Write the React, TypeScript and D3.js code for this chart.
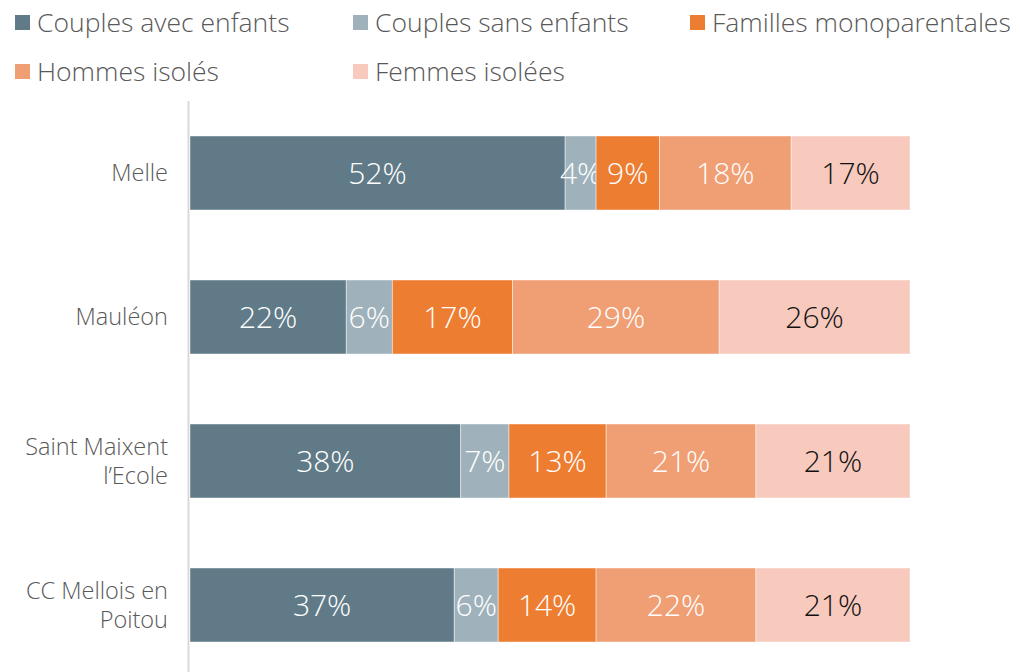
import React from "react";
import * as d3 from "d3";

const categories = ["Melle", "Mauléon", "Saint Maixent l’Ecole", "CC Mellois en Poitou"];
const categoryLines = [["Melle"], ["Mauléon"], ["Saint Maixent", "l’Ecole"], ["CC Mellois en", "Poitou"]];
const seriesNames = ["Couples avec enfants", "Couples sans enfants", "Familles monoparentales", "Hommes isolés", "Femmes isolées"];
const seriesColors = ["#607b87", "#9fb2bb", "#ed7d31", "#f09e74", "#f7cabd"];
const labelColors = ["#ffffff", "#ffffff", "#ffffff", "#ffffff", "#111111"];
const coupleAvec = [52.1, 21.7, 37.6, 36.7];
const coupleSans = [4.3, 6.4, 6.7, 6.1];
const monoparent = [8.8, 16.7, 13.5, 13.6];
const hommes = [18.3, 28.7, 20.8, 22.2];
const femmes = [16.5, 26.5, 21.4, 21.4];
const valueLabels = [
  ["52%", "22%", "38%", "37%"],
  ["4%", "6%", "7%", "6%"],
  ["9%", "17%", "13%", "14%"],
  ["18%", "29%", "21%", "22%"],
  ["17%", "26%", "21%", "21%"],
];

const W = 1020;
const H = 672;
const FONT = "'Open Sans', sans-serif";

export default function App() {
  const series = [coupleAvec, coupleSans, monoparent, hommes, femmes];
  const rows = categories.map((c, i) => {
    const o: any = { cat: c };
    seriesNames.forEach((s, j) => (o[s] = series[j][i]));
    return o;
  });
  const stack = d3.stack<any>().keys(seriesNames).offset(d3.stackOffsetExpand);
  const stacked = stack(rows);
  const x = d3.scaleLinear().domain([0, 1]).range([190, 910]);
  const y = d3.scaleBand().domain(categories).range([101, 677]).paddingInner(0.486).paddingOuter(0.243);

  const legendPos = [
    [15, 23], [353, 23], [690, 23],
    [15, 72], [353, 72],
  ];

  return (
    <svg width={W} height={H} style={{ position: "absolute", left: 0, top: 0, fontFamily: FONT }}>
      <rect width={W} height={H} fill="#fff" />
      {seriesNames.map((s, i) => (
        <g key={s}>
          <rect x={legendPos[i][0]} y={legendPos[i][1] - 8} width={15} height={15} fill={seriesColors[i]} />
          <text x={legendPos[i][0] + 22} y={legendPos[i][1]} dy="0.35em" fontSize={26.5} fontWeight={300} fill="#595959">{s}</text>
        </g>
      ))}
      <line x1={188.5} x2={188.5} y1={101} y2={H} stroke="#d9d9d9" strokeWidth={2} />
      {stacked.map((layer, si) => (
        <g key={si}>
          {layer.map((d, ci) => {
            const cat = categories[ci];
            const x0 = x(d[0]);
            const x1 = x(d[1]);
            const yy = y(cat)!;
            return (
              <g key={ci}>
                <rect x={x0} y={yy} width={x1 - x0} height={y.bandwidth()} fill={seriesColors[si]} stroke="#ffffff" strokeOpacity={0.6} strokeWidth={0.75} />
                <text x={(x0 + x1) / 2} y={yy + y.bandwidth() / 2} dy="0.35em" textAnchor="middle" fontSize={30} fontWeight={300} fill={labelColors[si]}>
                  {valueLabels[si][ci]}
                </text>
              </g>
            );
          })}
        </g>
      ))}
      {categoryLines.map((lines, i) => {
        const cy = y(categories[i])! + y.bandwidth() / 2;
        const lh = 29;
        return (
          <text key={i} textAnchor="end" fontSize={23.5} fontWeight={300} fill="#595959">
            {lines.map((l, k) => (
              <tspan key={k} x={168} y={cy + (k - (lines.length - 1) / 2) * lh} dy="0.35em">{l}</tspan>
            ))}
          </text>
        );
      })}
    </svg>
  );
}
